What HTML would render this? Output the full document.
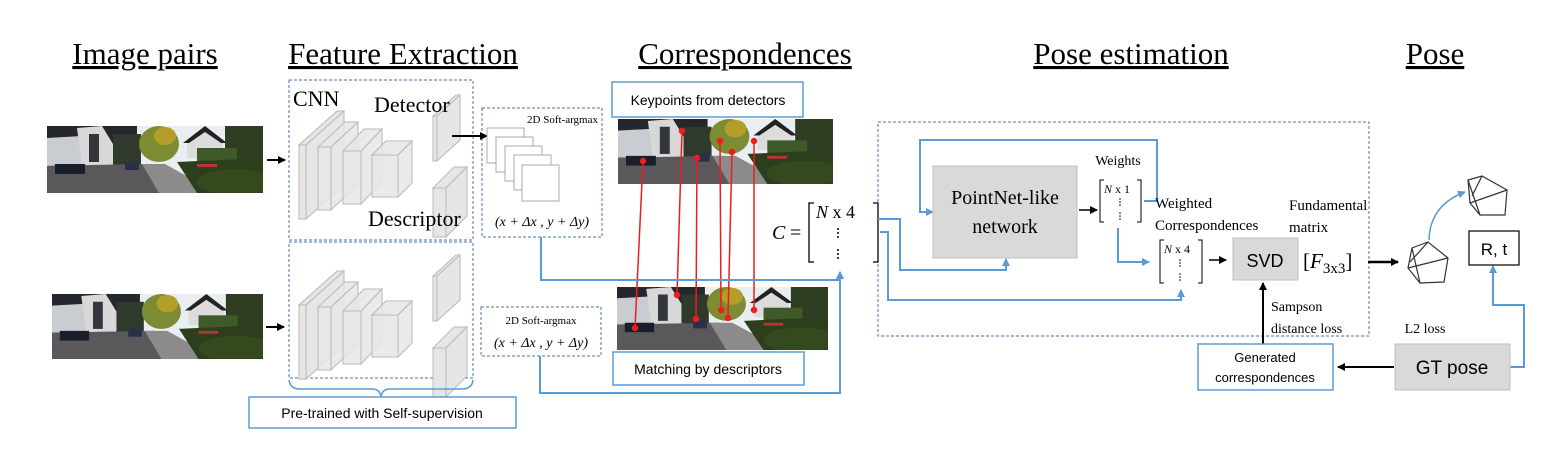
<!DOCTYPE html>
<html><head><meta charset="utf-8"><style>
html,body{margin:0;padding:0;background:#fff;}
svg{display:block;}
.t{font-family:"Liberation Serif",serif;}
.s{font-family:"Liberation Sans",sans-serif;}
</style></head><body>
<svg width="1555" height="450" viewBox="0 0 1555 450" xmlns="http://www.w3.org/2000/svg">
<defs>
<marker id="ab" markerWidth="8" markerHeight="8" refX="7" refY="4" orient="auto" markerUnits="userSpaceOnUse"><path d="M0,0 L8,4 L0,8 z" fill="#000"/></marker>
<marker id="au" markerWidth="8" markerHeight="8" refX="7" refY="4" orient="auto" markerUnits="userSpaceOnUse"><path d="M0,0 L8,4 L0,8 z" fill="#5b9bd5"/></marker>
<symbol id="scene" viewBox="0 0 216 67" preserveAspectRatio="none">
<rect width="216" height="67" fill="#e8eef2"/>
<rect x="0" y="0" width="90" height="45" fill="#24282e"/>
<polygon points="0,12 35,10 48,22 48,38 0,40" fill="#c9ccd0"/>
<polygon points="30,2 55,0 66,18 66,40 35,40" fill="#d8d8d8"/>
<rect x="42" y="8" width="10" height="28" fill="#33373c"/>
<rect x="66" y="8" width="28" height="35" fill="#2f3a2c"/>
<ellipse cx="112" cy="18" rx="20" ry="18" fill="#7d8c32"/>
<ellipse cx="118" cy="10" rx="11" ry="9" fill="#b49e2a"/>
<polygon points="140,16 158,4 176,16 176,32 140,32" fill="#dcdcdc"/>
<polygon points="136,17 158,0 180,17 174,17 158,6 142,17" fill="#222"/>
<rect x="178" y="0" width="38" height="35" fill="#2f3d22"/>
<rect x="150" y="22" width="40" height="18" fill="#3f5a28"/>
<polygon points="0,40 95,38 105,38 130,67 0,67" fill="#5a585b"/>
<polygon points="95,38 118,38 170,67 112,67" fill="#8c8a8a"/>
<polygon points="130,36 216,32 216,67 150,67" fill="#2c3e1b"/>
<ellipse cx="188" cy="56" rx="38" ry="13" fill="#35491f"/>
<rect x="8" y="38" width="30" height="10" fill="#1a1e2a"/>
<rect x="78" y="36" width="14" height="8" fill="#28314a"/>
<rect x="150" y="38" width="20" height="3" fill="#b33"/>
</symbol>
<g id="cnn">
<g fill="#e6e6e6" stroke="#b9b9b9" stroke-width="1">
<polygon points="299,145 337,111 344,111 306,145"/><polygon points="306,145 344,111 344,185 306,219"/><rect x="299" y="145" width="7" height="74"/>
<polygon points="318,147 345,122 358,122 331,147" fill-opacity="0.85"/><polygon points="331,147 358,122 358,185 331,210" fill-opacity="0.85"/><rect x="318" y="147" width="13" height="63" fill-opacity="0.85"/>
<polygon points="343,151 364,129 382,129 361,151" fill-opacity="0.85"/><polygon points="361,151 382,129 382,182 361,204" fill-opacity="0.85"/><rect x="343" y="151" width="18" height="53" fill-opacity="0.85"/>
<polygon points="372,155 386,141 412,141 398,155" fill-opacity="0.85"/><polygon points="398,155 412,141 412,183 398,197" fill-opacity="0.85"/><rect x="372" y="155" width="26" height="42" fill-opacity="0.85"/>
<polygon points="433,116 456,95 460,95 437,116"/><polygon points="437,116 460,95 460,140 437,161"/><rect x="433" y="116" width="4" height="45"/>
<polygon points="433,188 454,167 467,167 446,188"/><polygon points="446,188 467,167 467,216 446,237"/><rect x="433" y="188" width="13" height="49"/>
</g></g>
</defs>

<!-- titles -->
<g class="t" font-size="31" fill="#000">
<text x="145" y="64" text-anchor="middle" text-decoration="underline">Image pairs</text>
<text x="403" y="64" text-anchor="middle" text-decoration="underline">Feature Extraction</text>
<text x="745" y="64" text-anchor="middle" text-decoration="underline">Correspondences</text>
<text x="1131" y="64" text-anchor="middle" text-decoration="underline">Pose estimation</text>
<text x="1435" y="64" text-anchor="middle" text-decoration="underline">Pose</text>
</g>

<!-- images -->
<use href="#scene" x="47" y="126" width="216" height="67"/>
<use href="#scene" x="52" y="294" width="211" height="65"/>
<use href="#scene" x="618" y="119" width="215" height="65"/>
<use href="#scene" x="617" y="287" width="211" height="63"/>
<line x1="267" y1="160" x2="285" y2="160" stroke="#000" stroke-width="2" marker-end="url(#ab)"/>
<line x1="266" y1="327" x2="284" y2="327" stroke="#000" stroke-width="2" marker-end="url(#ab)"/>

<!-- feature boxes -->
<g fill="none" stroke="#4a74a8" stroke-width="1" stroke-dasharray="3,2">
<rect x="289" y="80" width="184" height="160"/>
<rect x="289" y="242" width="184" height="136"/>
<rect x="482" y="108" width="120" height="129"/>
<rect x="481" y="307" width="120" height="49"/>
<rect x="878" y="122" width="491" height="214"/>
</g>
<use href="#cnn"/>
<use href="#cnn" transform="translate(0,160)"/>
<g class="t" fill="#000">
<text x="293" y="106" font-size="22">CNN</text>
<text x="374" y="112" font-size="22">Detector</text>
<text x="368" y="226" font-size="22">Descriptor</text>
<text x="598" y="123" font-size="11" text-anchor="end">2D Soft-argmax</text>
<text x="541" y="324" font-size="11" text-anchor="middle">2D Soft-argmax</text>
<text x="542" y="226" font-size="14" text-anchor="middle" font-style="italic">(x + Δx , y + Δy)</text>
<text x="541" y="347" font-size="14" text-anchor="middle" font-style="italic">(x + Δx , y + Δy)</text>
</g>
<line x1="452" y1="136" x2="487" y2="136" stroke="#000" stroke-width="2" marker-end="url(#ab)"/>
<g fill="#fff" stroke="#aaa" stroke-width="1">
<rect x="487" y="128" width="37" height="35"/>
<rect x="496" y="137" width="37" height="35"/>
<rect x="505" y="146" width="37" height="35"/>
<rect x="514" y="155" width="37" height="35"/>
<rect x="522" y="165" width="37" height="36"/>
</g>
<!-- brace -->
<path d="M289,380 Q290,389 300,389 L372,389 Q380,389 381,397 Q382,389 390,389 L462,389 Q472,389 473,380" fill="none" stroke="#5b9bd5" stroke-width="1.5"/>
<rect x="249" y="397" width="267" height="31" fill="#fff" stroke="#5b9bd5" stroke-width="1.5"/>
<text x="382" y="418" class="s" font-size="14" text-anchor="middle">Pre-trained with Self-supervision</text>

<!-- correspondences -->
<rect x="612" y="82" width="191" height="35" fill="#fff" stroke="#5b9bd5" stroke-width="1.5"/>
<text x="708" y="105" class="s" font-size="14" text-anchor="middle">Keypoints from detectors</text>
<rect x="613" y="352" width="191" height="33" fill="#fff" stroke="#5b9bd5" stroke-width="1.5"/>
<text x="708" y="374" class="s" font-size="14" text-anchor="middle">Matching by descriptors</text>
<g stroke="#ee1c1c" stroke-width="1.5" fill="#ee1c1c">
<line x1="643" y1="161" x2="635" y2="328"/><circle cx="643" cy="161" r="2.5"/><circle cx="635" cy="328" r="2.5"/>
<line x1="682" y1="131" x2="677" y2="295"/><circle cx="682" cy="131" r="2.5"/><circle cx="677" cy="295" r="2.5"/>
<line x1="697" y1="158" x2="696" y2="319"/><circle cx="697" cy="158" r="2.5"/><circle cx="696" cy="319" r="2.5"/>
<line x1="720" y1="141" x2="721" y2="310"/><circle cx="720" cy="141" r="2.5"/><circle cx="721" cy="310" r="2.5"/>
<line x1="732" y1="152" x2="728" y2="318"/><circle cx="732" cy="152" r="2.5"/><circle cx="728" cy="318" r="2.5"/>
<line x1="754" y1="141" x2="754" y2="310"/><circle cx="754" cy="141" r="2.5"/><circle cx="754" cy="310" r="2.5"/>
</g>
<!-- C matrix -->
<text x="772" y="239" class="t" font-size="20" font-style="italic">C</text>
<text x="790" y="239" class="t" font-size="20">=</text>
<path d="M814,203 L809,203 L809,262 L814,262 M873,203 L878,203 L878,262 L873,262" fill="none" stroke="#000" stroke-width="1.3"/>
<text x="816" y="218" class="t" font-size="18"><tspan font-style="italic">N</tspan> x 4</text>
<g fill="#000"><circle cx="838" cy="229" r="1"/><circle cx="838" cy="233" r="1"/><circle cx="838" cy="237" r="1"/><circle cx="838" cy="250" r="1"/><circle cx="838" cy="254" r="1"/><circle cx="838" cy="258" r="1"/></g>
<g fill="none" stroke="#5b9bd5" stroke-width="2">
<polyline points="541,237 541,280 840,280 840,272" marker-end="url(#au)"/>
<polyline points="540,356 540,393 840,393 840,272" marker-end="url(#au)"/>
<polyline points="878,219 900,219 900,270 1006,270 1006,259" marker-end="url(#au)"/>
<polyline points="880,232 888,232 888,300 1181,300 1181,290" marker-end="url(#au)"/>
<polyline points="1144,201 1157,201 1157,140 920,140 920,212 933,212" marker-end="url(#au)"/>
<polyline points="1118,228 1118,262 1149,262" marker-end="url(#au)"/>
<polyline points="1510,367 1524,367 1524,305 1493,305 1493,266" marker-end="url(#au)"/>
<path d="M1429,240 Q1430,205 1465,192" marker-end="url(#au)" stroke-width="1.5"/>
</g>
<!-- PointNet -->
<rect x="933" y="166" width="144" height="92" fill="#d9d9d9" stroke="#bfbfbf"/>
<text x="1005" y="204" class="t" font-size="20" text-anchor="middle">PointNet-like</text>
<text x="1005" y="233" class="t" font-size="20" text-anchor="middle">network</text>
<line x1="1079" y1="210" x2="1097" y2="210" stroke="#000" stroke-width="1.5" marker-end="url(#ab)"/>
<text x="1118" y="165" class="t" font-size="14" text-anchor="middle">Weights</text>
<path d="M1104,180 L1100,180 L1100,222 L1104,222 M1137,180 L1141,180 L1141,222 L1137,222" fill="none" stroke="#000" stroke-width="1"/>
<text x="1104" y="193" class="t" font-size="12"><tspan font-style="italic">N</tspan> x 1</text>
<g fill="#000"><circle cx="1120" cy="199" r=".8"/><circle cx="1120" cy="202" r=".8"/><circle cx="1120" cy="205" r=".8"/><circle cx="1120" cy="213" r=".8"/><circle cx="1120" cy="216" r=".8"/><circle cx="1120" cy="219" r=".8"/></g>
<text x="1155" y="208" class="t" font-size="15">Weighted</text>
<text x="1155" y="230" class="t" font-size="15">Correspondences</text>
<path d="M1164,240 L1160,240 L1160,283 L1164,283 M1198,240 L1202,240 L1202,283 L1198,283" fill="none" stroke="#000" stroke-width="1"/>
<text x="1164" y="253" class="t" font-size="12"><tspan font-style="italic">N</tspan> x 4</text>
<g fill="#000"><circle cx="1180" cy="260" r=".8"/><circle cx="1180" cy="263" r=".8"/><circle cx="1180" cy="266" r=".8"/><circle cx="1180" cy="274" r=".8"/><circle cx="1180" cy="277" r=".8"/><circle cx="1180" cy="280" r=".8"/></g>
<line x1="1209" y1="260" x2="1226" y2="260" stroke="#000" stroke-width="1.5" marker-end="url(#ab)"/>
<rect x="1233" y="238" width="65" height="42" fill="#d9d9d9" stroke="#bfbfbf"/>
<text x="1265" y="267" class="s" font-size="18" text-anchor="middle">SVD</text>
<text x="1289" y="210" class="t" font-size="15">Fundamental</text>
<text x="1289" y="232" class="t" font-size="15">matrix</text>
<text x="1303" y="268" class="t" font-size="21">[<tspan font-style="italic">F</tspan><tspan font-size="15" dy="5">3x3</tspan><tspan dy="-5">]</tspan></text>
<line x1="1368" y1="262" x2="1398" y2="262" stroke="#000" stroke-width="2.5" marker-end="url(#ab)"/>
<text x="1271" y="311" class="t" font-size="14">Sampson</text>
<text x="1271" y="333" class="t" font-size="14">distance loss</text>
<line x1="1263" y1="344" x2="1263" y2="283" stroke="#000" stroke-width="2" marker-end="url(#ab)"/>
<rect x="1198" y="344" width="135" height="46" fill="#fff" stroke="#5b9bd5" stroke-width="1.5"/>
<text x="1265" y="362" class="s" font-size="13" text-anchor="middle">Generated</text>
<text x="1265" y="382" class="s" font-size="13" text-anchor="middle">correspondences</text>
<rect x="1395" y="344" width="115" height="46" fill="#d9d9d9" stroke="#bfbfbf"/>
<text x="1452" y="374" class="s" font-size="19" text-anchor="middle">GT pose</text>
<line x1="1394" y1="367" x2="1338" y2="367" stroke="#000" stroke-width="2" marker-end="url(#ab)"/>
<text x="1425" y="333" class="t" font-size="14" text-anchor="middle">L2 loss</text>
<rect x="1469" y="231" width="50" height="34" fill="#fff" stroke="#000" stroke-width="1.2"/>
<text x="1494" y="255" class="s" font-size="17" text-anchor="middle">R, t</text>
<!-- camera shapes -->
<g fill="none" stroke="#333" stroke-width="1.2">
<path d="M1412,248 L1428,242 L1448,258 L1444,282 L1420,283 L1408,268 Z M1412,248 L1420,283 M1408,268 L1448,258 M1428,242 L1410,262"/>
<path d="M1468,180 L1482,176 L1507,190 L1505,215 L1480,215 L1470,203 Z M1468,180 L1480,215 M1470,203 L1507,190 M1482,176 L1472,196"/>
</g>
</svg>
</body></html>
